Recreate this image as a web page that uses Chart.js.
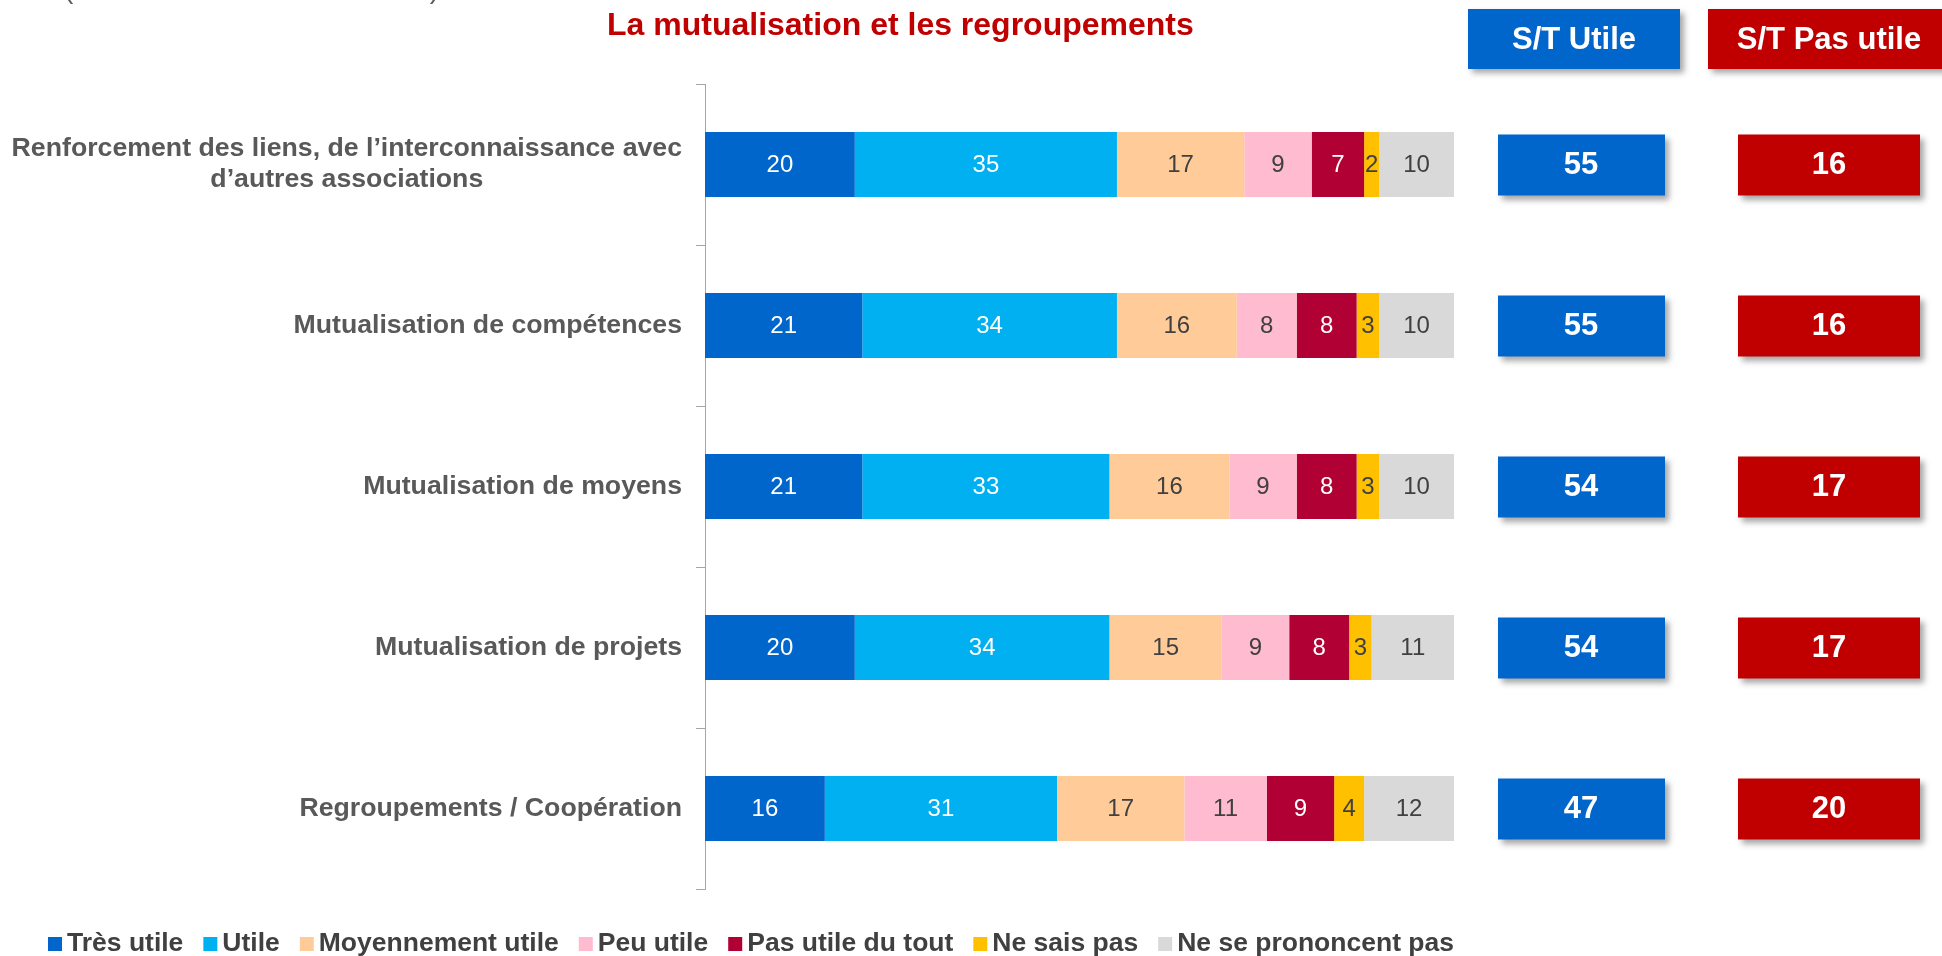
<!DOCTYPE html>
<html lang="fr">
<head>
<meta charset="utf-8">
<title>La mutualisation et les regroupements</title>
<script src="https://cdn.jsdelivr.net/npm/chart.js@4.4.1/dist/chart.umd.min.js"></script>
<style>
  html, body { margin: 0; padding: 0; background: #fff; }
  #wrap { position: relative; width: 1942px; height: 956px; }
</style>
</head>
<body>
<div id="wrap"><canvas id="chart" width="1942" height="956"></canvas></div>
<script>
// Données (en %)
const categories = [
    ['Renforcement des liens, de l\u2019interconnaissance avec', 'd\u2019autres associations'],
    'Mutualisation de compétences',
    'Mutualisation de moyens',
    'Mutualisation de projets',
    'Regroupements / Coopération'
];
const seriesNames = ['Très utile', 'Utile', 'Moyennement utile', 'Peu utile', 'Pas utile du tout', 'Ne sais pas', 'Ne se prononcent pas'];
const tresUtile = [20, 21, 21, 20, 16];
const utile = [35, 34, 33, 34, 31];
const moyennementUtile = [17, 16, 16, 15, 17];
const peuUtile = [9, 8, 9, 9, 11];
const pasUtileDuTout = [7, 8, 8, 8, 9];
const neSaisPas = [2, 3, 3, 3, 4];
const nePrononcentPas = [10, 10, 10, 11, 12];
const stUtile = [55, 55, 54, 54, 47];
const stPasUtile = [16, 16, 17, 17, 20];

const FONT = '"Liberation Sans", Arial, sans-serif';
const colors = ['#0066CC', '#00B0F0', '#FFCC99', '#FFBBCF', '#B10034', '#FFC000', '#D9D9D9'];
const labelColors = ['#FFFFFF', '#FFFFFF', '#404040', '#404040', '#FFFFFF', '#404040', '#404040'];
const BLUE = '#0066CC';
const RED = '#C00000';

const seriesValues = [tresUtile, utile, moyennementUtile, peuUtile, pasUtileDuTout, neSaisPas, nePrononcentPas];

const datasets = seriesNames.map((name, i) => ({
    label: name,
    data: seriesValues[i],
    backgroundColor: colors[i],
    borderWidth: 0,
    barPercentage: 0.404,
    categoryPercentage: 1
}));

// Boîte avec ombre portée
function shadowBox(ctx, x, y, w, h, color) {
    ctx.save();
    ctx.shadowColor = 'rgba(0, 0, 0, 0.35)';
    ctx.shadowBlur = 6;
    ctx.shadowOffsetX = 4;
    ctx.shadowOffsetY = 4;
    ctx.fillStyle = color;
    ctx.fillRect(x, y, w, h);
    ctx.restore();
}

const decorPlugin = {
    id: 'decor',
    afterDraw(chart) {
        const ctx = chart.ctx;
        const yScale = chart.scales.y;

        // Texte coupé en haut à gauche
        ctx.save();
        ctx.font = '28px ' + FONT;
        ctx.fillStyle = '#595959';
        ctx.textAlign = 'left';
        ctx.textBaseline = 'alphabetic';
        ctx.fillText('(Base : ensemble / total en %)', 64, -2);

        // Titre
        ctx.font = 'bold 32px ' + FONT;
        ctx.fillStyle = RED;
        ctx.fillText('La mutualisation et les regroupements', 607, 35);

        // Libellés des catégories
        ctx.font = 'bold 26.7px ' + FONT;
        ctx.fillStyle = '#595959';
        ctx.textAlign = 'center';
        ctx.textBaseline = 'middle';
        categories.forEach((cat, i) => {
            const lines = Array.isArray(cat) ? cat : [cat];
            const widest = Math.max(...lines.map(l => ctx.measureText(l).width));
            const cx = 682 - widest / 2;
            const yc = yScale.getPixelForValue(i);
            const lh = 31;
            lines.forEach((line, k) => {
                ctx.fillText(line, cx, yc - (lines.length - 1) * lh / 2 + k * lh);
            });
        });

        // Valeurs dans les barres
        ctx.font = '24px ' + FONT;
        chart.data.datasets.forEach((ds, i) => {
            const meta = chart.getDatasetMeta(i);
            ctx.fillStyle = labelColors[i];
            meta.data.forEach((bar, j) => {
                ctx.fillText(String(ds.data[j]), (bar.x + bar.base) / 2, bar.y + 1);
            });
        });

        // En-têtes S/T
        shadowBox(ctx, 1468, 9, 212, 60, BLUE);
        shadowBox(ctx, 1708, 9, 242, 60, RED);
        ctx.font = 'bold 31px ' + FONT;
        ctx.fillStyle = '#FFFFFF';
        ctx.fillText('S/T Utile', 1574, 40);
        ctx.fillText('S/T Pas utile', 1829, 40);

        // Sous-totaux
        stUtile.forEach((v, i) => {
            const yc = yScale.getPixelForValue(i);
            shadowBox(ctx, 1498, yc - 30, 167, 61, BLUE);
            shadowBox(ctx, 1738, yc - 30, 182, 61, RED);
            ctx.fillStyle = '#FFFFFF';
            ctx.fillText(String(v), 1581, yc + 1);
            ctx.fillText(String(stPasUtile[i]), 1829, yc + 1);
        });

        // Légende
        ctx.font = 'bold 26.5px ' + FONT;
        ctx.textAlign = 'left';
        let x = 48;
        const ly = 944;
        seriesNames.forEach((name, i) => {
            ctx.fillStyle = colors[i];
            ctx.fillRect(x, ly - 7, 14, 14);
            x += 19;
            ctx.fillStyle = '#404040';
            ctx.fillText(name, x, ly);
            x += ctx.measureText(name).width + 20;
        });
        ctx.restore();
    }
};

new Chart(document.getElementById('chart'), {
    type: 'bar',
    data: { labels: categories.map(c => Array.isArray(c) ? c.join(' ') : c), datasets },
    options: {
        indexAxis: 'y',
        responsive: false,
        animation: false,
        layout: { padding: { top: 84, bottom: 67, left: 0, right: 488 } },
        plugins: {
            legend: { display: false },
            tooltip: { enabled: false }
        },
        scales: {
            x: { stacked: true, min: 0, max: 100, display: false },
            y: {
                stacked: true,
                grid: { display: true, drawOnChartArea: false, offset: true, tickLength: 9, color: '#A6A6A6' },
                border: { display: true, color: '#A6A6A6', width: 1 },
                ticks: { display: false },
                afterFit: (scale) => { scale.width = 705; }
            }
        }
    },
    plugins: [decorPlugin]
});
</script>
</body>
</html>
